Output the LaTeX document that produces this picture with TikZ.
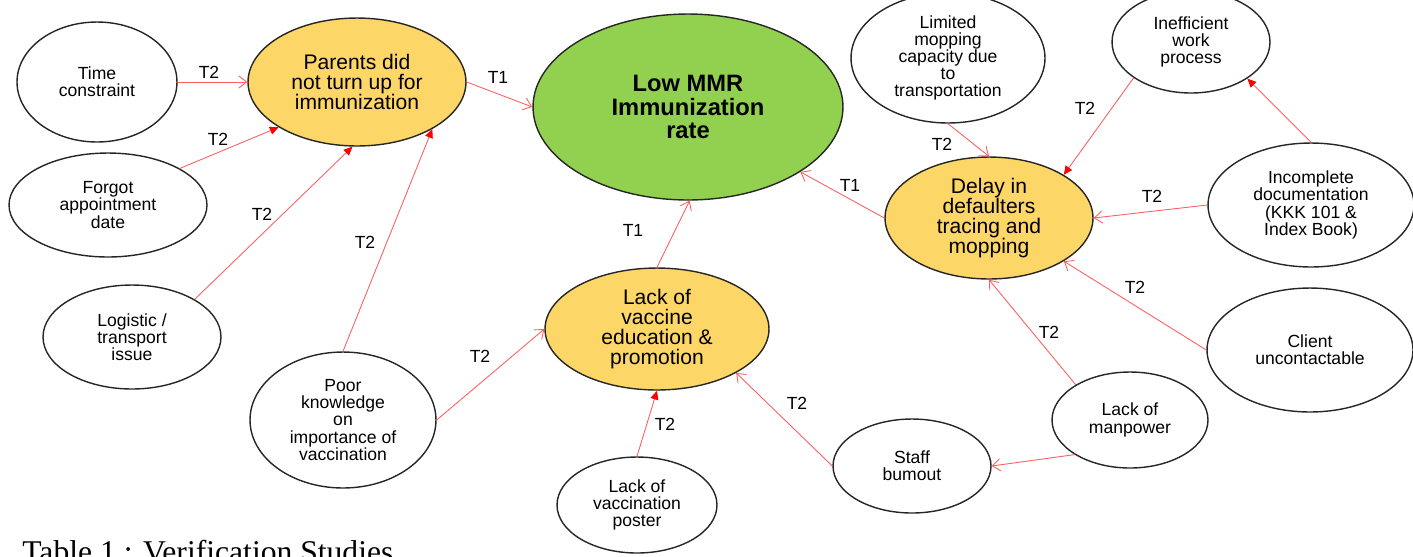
\documentclass[tikz,border=0pt]{standalone}
\usepackage{fontspec}
\setmainfont{Liberation Sans}
\newfontfamily\capfont{Liberation Serif}
\usetikzlibrary{arrows.meta,shapes.geometric}
\definecolor{issuefill}{RGB}{252,214,103}
\definecolor{rootfill}{RGB}{146,208,80}
\definecolor{linkred}{RGB}{255,95,95}
\tikzset{
  cause/.style={ellipse,draw=black!85,line width=.8pt,inner sep=0pt,align=center,
    font=\fontsize{10}{9.8}\selectfont},
  issue/.style={cause,fill=issuefill,font=\fontsize{12}{11.4}\selectfont},
  rootnode/.style={cause,fill=rootfill,font=\fontsize{13.5}{13.3}\selectfont\bfseries},
  openlink/.style={draw=linkred,line width=.5pt,-{Straight Barb[length=4.5pt,width=7pt]}},
  filledlink/.style={draw=linkred,line width=.5pt,-{Triangle[length=5pt,width=4.5pt,color=red]}},
  lbl/.style={font=\fontsize{10}{10}\selectfont,inner sep=1pt}
}
\begin{document}
\begin{tikzpicture}[x=0.02cm,y=-0.02cm]
  \useasboundingbox (0,0) rectangle (1413,556);
  % main problem and first level causes
  \node[rootnode,minimum width=6.2cm,minimum height=3.72cm] (low) at (688,107) {Low MMR\\Immunization\\rate};
  \node[issue,minimum width=4.36cm,minimum height=2.56cm] (parents) at (357,82) {Parents did\\not turn up for\\immunization};
  \node[issue,minimum width=4.48cm,minimum height=2.44cm] (vaccine) at (657,329) {Lack of\\vaccine\\education \&\\promotion};
  \node[issue,minimum width=4.16cm,minimum height=2.44cm] (delay) at (989,218) {Delay in\\defaulters\\tracing and\\mopping};
  % second level causes
  \node[cause,minimum width=3.2cm,minimum height=2.4cm] (time) at (97,82) {Time\\constraint};
  \node[cause,minimum width=3.96cm,minimum height=2.08cm] (forgot) at (108,205) {Forgot\\appointment\\date};
  \node[cause,minimum width=3.56cm,minimum height=2.08cm] (logistic) at (132,337) {Logistic /\\transport\\issue};
  \node[cause,minimum width=3.72cm,minimum height=2.72cm] (poor) at (343,420) {Poor\\knowledge\\on\\importance of\\vaccination};
  \node[cause,minimum width=3.2cm,minimum height=1.92cm] (poster) at (637,505) {Lack of\\vaccination\\poster};
  \node[cause,minimum width=3.16cm,minimum height=1.88cm] (staff) at (912,466) {Staff\\bumout};
  \node[cause,minimum width=3.12cm,minimum height=1.92cm] (manpower) at (1130,420) {Lack of\\manpower};
  \node[cause,minimum width=4.12cm,minimum height=2.48cm] (client) at (1310,350) {Client\\uncontactable};
  \node[cause,minimum width=4.12cm,minimum height=2.48cm] (incomplete) at (1311,205) {Incomplete\\documentation\\(KKK 101 \&\\Index Book)};
  \node[cause,minimum width=3.16cm,minimum height=2.04cm] (inefficient) at (1191,42) {Inefficient\\work\\process};
  \node[cause,minimum width=3.88cm,minimum height=2.6cm] (limited) at (948,58) {Limited\\mopping\\capacity due\\to\\transportation};
  % links
  \draw[openlink] (time.east) -- (parents.west);
  \draw[filledlink] (forgot.27) -- (parents.210);
  \draw[filledlink] (logistic.31) -- (parents.266);
  \draw[filledlink] (poor.north) -- (parents.328);
  \draw[openlink] (parents.east) -- (low.west);
  \draw[openlink] (poor.east) -- (vaccine.west);
  \draw[openlink] (vaccine.north) -- (low.271);
  \draw[filledlink] (poster.north) -- (vaccine.south);
  \draw[openlink] (staff.west) -- (vaccine.331);
  \draw[openlink] (manpower.212) -- (staff.east);
  \draw[openlink] (manpower.147) -- (delay.south);
  \draw[openlink] (client.west) -- (delay.330);
  \draw[openlink] (incomplete.west) -- (delay.east);
  \draw[filledlink] (incomplete.north) -- (inefficient.327);
  \draw[filledlink] (inefficient.212) -- (delay.30);
  \draw[openlink] (limited.south) -- (delay.north);
  \draw[openlink] (delay.west) -- (low.330);
  % link labels
  \node[lbl] (l-time) at (209,72) {T2};
  \node[lbl] (l-forgot) at (218,139) {T2};
  \node[lbl] (l-logistic) at (262,214) {T2};
  \node[lbl] (l-poorp) at (365,242) {T2};
  \node[lbl] (l-parents) at (498,77) {T1};
  \node[lbl] (l-poorv) at (480,356) {T2};
  \node[lbl] (l-vaccine) at (633,230) {T1};
  \node[lbl] (l-poster) at (665,424) {T2};
  \node[lbl] (l-staff) at (797,403) {T2};
  \node[lbl] (l-delay) at (850,185) {T1};
  \node[lbl] (l-limited) at (942,144) {T2};
  \node[lbl] (l-inefficient) at (1085,108) {T2};
  \node[lbl] (l-incomplete) at (1152,196) {T2};
  \node[lbl] (l-client) at (1135,287) {T2};
  \node[lbl] (l-manpower) at (1049,332) {T2};
  % caption, cut by the page edge
  \node[font=\capfont\fontsize{18}{18}\selectfont,anchor=base west,inner sep=0pt] (caption) at (22,562) {Table 1 : Verification Studies};
\end{tikzpicture}
\end{document}
